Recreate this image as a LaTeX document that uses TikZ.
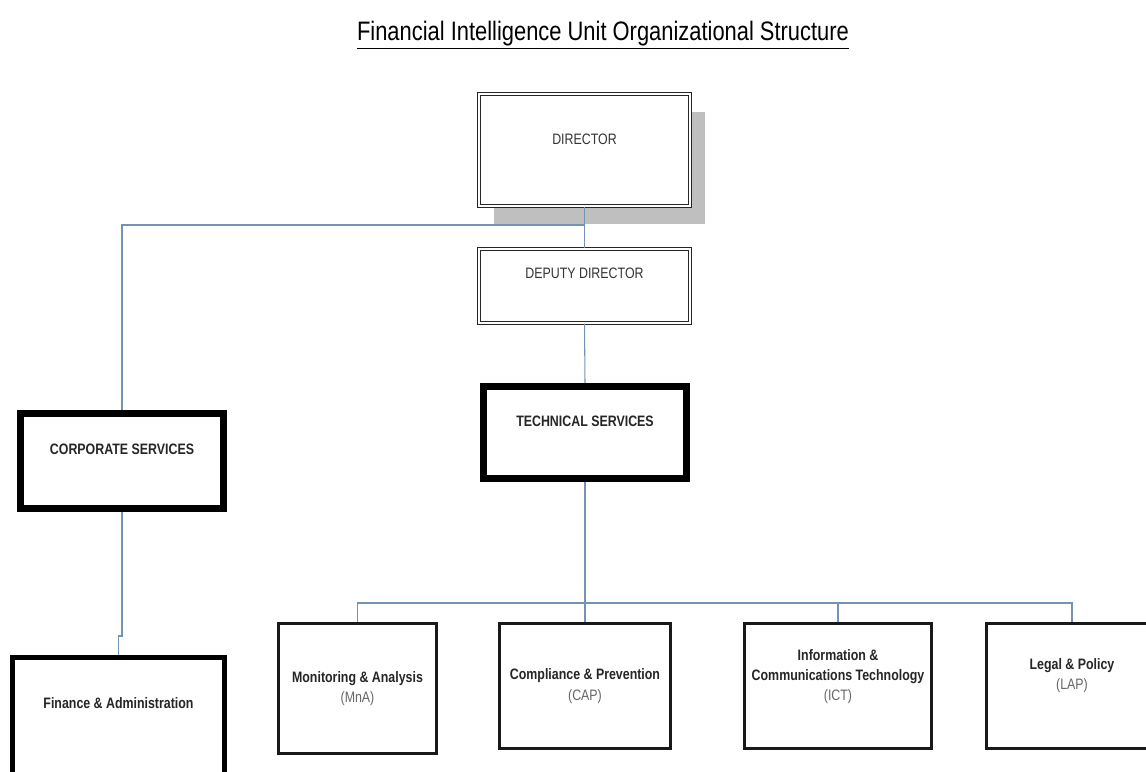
\documentclass[tikz,border=0pt]{standalone}
\usepackage{fontspec}
\setmainfont{Liberation Sans}[FakeStretch=0.82]
\usetikzlibrary{shadows}
\definecolor{linkblue}{HTML}{7393B5}
\newcommand\boxfont{\fontsize{8.6}{11.6}\selectfont}
\tikzset{
  headbox/.style={draw=black!85, line width=0.7pt, double=white, double distance=0.8pt, fill=white, inner sep=0pt, text=black!80, font=\boxfont},
  unitbox/.style={draw=black, line width=4pt, fill=white, inner sep=0pt, text=black!85, font=\boxfont\bfseries},
  subbox/.style={draw=black!90, line width=1.6pt, fill=white, inner sep=0pt, align=center, text=black!85, font=\boxfont},
  link/.style={draw=linkblue, line width=0.6pt}
}
\begin{document}
\begin{tikzpicture}[x=0.2mm, y=-0.2mm]
\clip (0,0) rectangle (1146,771);
\node (title) at (603,35) {\fontsize{15.2}{18}\selectfont\underline{Financial Intelligence Unit Organizational Structure}};
% top of the unit
\node[headbox, minimum width=42.2mm, minimum height=22.4mm, text depth=4.2mm, drop shadow={shadow xshift=3mm, shadow yshift=-3.6mm, fill=black!25, opacity=1}] (dir) at (584.5,150) {DIRECTOR};
\node[headbox, minimum width=42.2mm, minimum height=14.8mm, text depth=5mm] (dep) at (584.5,286) {DEPUTY DIRECTOR};
% services
\node[unitbox, minimum width=40.6mm, minimum height=19mm, text depth=4.6mm] (corp) at (122,461) {CORPORATE SERVICES};
\node[unitbox, minimum width=40.6mm, minimum height=18.4mm, text depth=4.6mm] (tech) at (585,432.5) {TECHNICAL SERVICES};
\node[unitbox, line width=3pt, minimum width=42.4mm, minimum height=25.4mm, text depth=7.2mm] (fin) at (118.5,721) {Finance \& Administration};
% divisions
\node[subbox, minimum width=31.6mm, minimum height=26mm] (mna) at (357.5,688.5) {\textbf{Monitoring \& Analysis}\\{\color{black!60}(MnA)}};
\node[subbox, minimum width=34.2mm, minimum height=25mm] (cap) at (585,686) {\textbf{Compliance \& Prevention}\\{\color{black!60}(CAP)}};
\node[subbox, minimum width=37.4mm, minimum height=25mm, text depth=4.4mm] (ict) at (838,686) {\textbf{Information \&}\\\textbf{Communications Technology}\\{\color{black!60}(ICT)}};
\node[subbox, minimum width=34.3mm, minimum height=25mm, text depth=4.8mm] (lap) at (1072,686) {\textbf{Legal \& Policy}\\{\color{black!60}(LAP)}};
% links
\coordinate (split) at (584.5,225);
\coordinate (finjog) at (120,636);
\coordinate (bus) at (585,603);
\draw[link] (dir.south) -- (dep.north);
\draw[link] (split) -| (corp.north);
\draw[link] (corp.south) |- (finjog) -| (fin.north);
\draw[link] (dep.south) -- (tech.north);
\draw[link] (tech.south) -- (bus);
\draw[link] (mna.north) |- (bus);
\draw[link] (bus) -| (lap.north);
\draw[link] (bus) -- (cap.north);
\draw[link] (ict.north) -- (ict.north |- bus);
\end{tikzpicture}
\end{document}
